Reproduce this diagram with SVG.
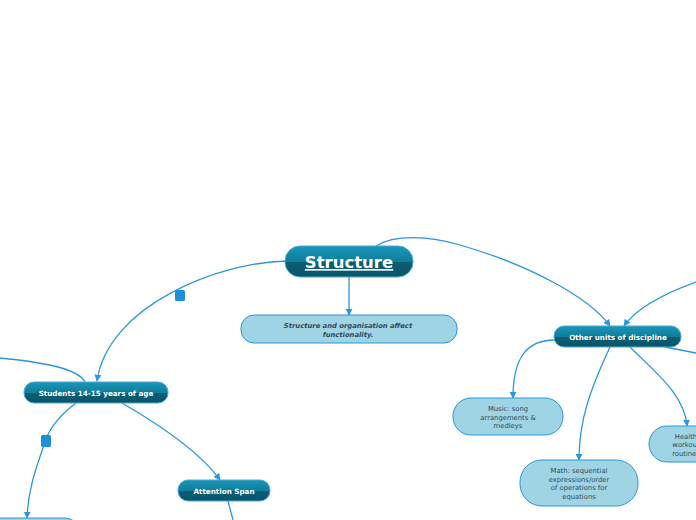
<svg xmlns="http://www.w3.org/2000/svg" width="696" height="520" viewBox="0 0 696 520">
<defs>
<linearGradient id="dk" x1="0" y1="0" x2="0" y2="1">
<stop offset="0" stop-color="#1b97b8"/>
<stop offset="0.5" stop-color="#0f7d9c"/>
<stop offset="0.52" stop-color="#0b5e75"/>
<stop offset="1" stop-color="#0a5468"/>
</linearGradient>
<marker id="ar" viewBox="0 0 10 10" refX="9" refY="5" markerWidth="7" markerHeight="7" orient="auto" markerUnits="userSpaceOnUse">
<path d="M0,0 L10,5 L0,10 z" fill="#2a96dc"/>
</marker>
</defs>
<style>
.c{fill:none;stroke:#2a96dc;stroke-width:1.3}
.dk{fill:url(#dk);stroke:#4aa8d8;stroke-width:1}
.lt{fill:#9fd4e4;stroke:#2a96dc;stroke-width:1}
.tw{font-family:"DejaVu Sans",sans-serif;font-weight:bold;fill:#ffffff;text-anchor:middle}
.tl{font-family:"DejaVu Sans",sans-serif;fill:#2e4a5a;text-anchor:middle;font-size:6.8px}
.sq{fill:#1e90d8}
</style>
<rect width="696" height="520" fill="#ffffff"/>
<g id="connectors">
<path class="c" d="M287,261 C220,262 108,305 97,381" marker-end="url(#ar)"/>
<path class="c" d="M0,358 C40,362 78,368 85,382"/>
<path class="c" d="M76,403 C60,415 48,430 44,445 C36,468 28,490 27,518" marker-end="url(#ar)"/>
<path class="c" d="M122,403 C160,425 200,452 220,480" marker-end="url(#ar)"/>
<path class="c" d="M228,501 L233,520"/>
<path class="c" d="M349,277 L349,315" marker-end="url(#ar)"/>
<path class="c" d="M376,246 C395,234 430,236 460,245 C530,265 590,298 610,326" marker-end="url(#ar)"/>
<path class="c" d="M696,282 C660,295 635,310 624,326" marker-end="url(#ar)"/>
<path class="c" d="M665,347 C675,349 686,351 696,353"/>
<path class="c" d="M555,340 C525,340 513,360 513,398" marker-end="url(#ar)"/>
<path class="c" d="M610,347 C590,390 579,420 579,460" marker-end="url(#ar)"/>
<path class="c" d="M630,347 C655,372 685,395 687,426" marker-end="url(#ar)"/>
<rect class="sq" x="175" y="290" width="10" height="11" rx="1.5"/>
<rect class="sq" x="41" y="435" width="10" height="12" rx="1.5"/>
</g>
<g id="n-structure">
<rect class="dk" x="285" y="246" width="128" height="31" rx="15"/>
<text class="tw" x="349" y="268" font-size="16.5" text-decoration="underline">Structure</text>
</g>
<g id="n-note">
<rect class="lt" x="241" y="315" width="216" height="28" rx="13"/>
<text class="tl" x="348" y="328" font-weight="bold" font-style="italic" fill="#2a3a4a">Structure and organisation affect</text>
<text class="tl" x="348" y="336.5" font-weight="bold" font-style="italic" fill="#2a3a4a">functionality.</text>
</g>
<g id="n-other">
<rect class="dk" x="554" y="326" width="127" height="21" rx="10"/>
<text class="tw" x="618" y="339.5" font-size="7.2">Other units of discipline</text>
</g>
<g id="n-students">
<rect class="dk" x="24" y="382" width="144" height="21" rx="10"/>
<text class="tw" x="96" y="395.5" font-size="7.2">Students 14-15 years of age</text>
</g>
<g id="n-attention">
<rect class="dk" x="178" y="480" width="92" height="21" rx="10"/>
<text class="tw" x="224" y="493.5" font-size="7.2">Attention Span</text>
</g>
<g id="n-bottomleft">
<rect class="lt" x="-30" y="518" width="112" height="40" rx="18"/>
</g>
<g id="n-music">
<rect class="lt" x="453" y="398" width="110" height="37" rx="18"/>
<text class="tl" x="508" y="411">Music: song</text>
<text class="tl" x="508" y="419.5">arrangements &amp;</text>
<text class="tl" x="508" y="428">medleys</text>
</g>
<g id="n-math">
<rect class="lt" x="520" y="460" width="118" height="46" rx="22"/>
<text class="tl" x="579" y="473">Math: sequential</text>
<text class="tl" x="579" y="481.5">expressions/order</text>
<text class="tl" x="579" y="490">of operations for</text>
<text class="tl" x="579" y="498.5">equations</text>
</g>
<g id="n-health">
<rect class="lt" x="649" y="426" width="76" height="36" rx="18"/>
<text class="tl" x="686" y="438.5">Health</text>
<text class="tl" x="686" y="447">workout</text>
<text class="tl" x="686" y="455.5">routines</text>
</g>
</svg>
